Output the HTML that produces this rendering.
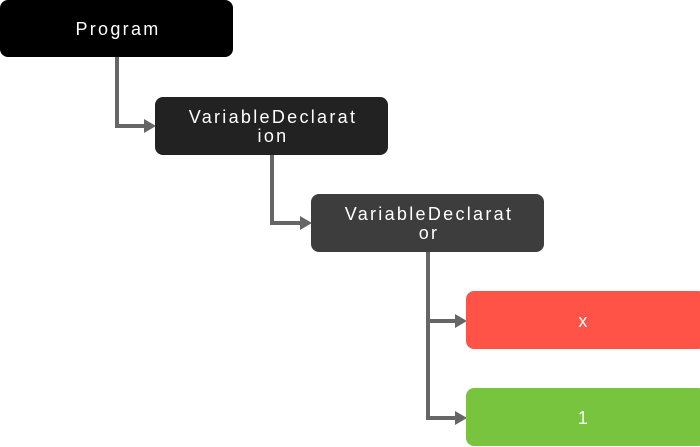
<!DOCTYPE html>
<html><head><style>
html,body{margin:0;padding:0;background:#fff;width:700px;height:447px;overflow:hidden}
text{font-family:"Liberation Sans",sans-serif;font-size:18px;fill:#fff;letter-spacing:2.3px;text-anchor:middle}
</style></head><body>
<svg width="700" height="447" viewBox="0 0 700 447" xmlns="http://www.w3.org/2000/svg">
<g fill="none" stroke="#666" stroke-width="4">
<path d="M117 57 V126 H146"/>
<path d="M272 155 V223 H302"/>
<path d="M428 252 V418 H458 M428 321 H458"/>
</g>
<g fill="#666">
<path d="M144 119 L156 126 L144 133Z"/>
<path d="M300 216 L312 223 L300 230Z"/>
<path d="M455 314 L467 321 L455 328Z"/>
<path d="M455 411 L467 418 L455 425Z"/>
</g>
<rect x="0" y="0" width="233" height="57" rx="8" fill="#000"/>
<rect x="155" y="97" width="233" height="58" rx="8" fill="#222"/>
<rect x="311" y="194" width="233" height="58" rx="8" fill="#3d3d3d"/>
<rect x="466" y="291" width="240" height="58" rx="8" fill="#ff5347"/>
<rect x="466" y="388" width="240" height="58" rx="8" fill="#79c43f"/>
<text x="118" y="35">Program</text>
<text x="273" y="123">VariableDeclarat</text>
<text x="273" y="142">ion</text>
<text x="429" y="220">VariableDeclarat</text>
<text x="429" y="239">or</text>
<text x="584" y="327">x</text>
<text x="584" y="424">1</text>
</svg>
</body></html>
